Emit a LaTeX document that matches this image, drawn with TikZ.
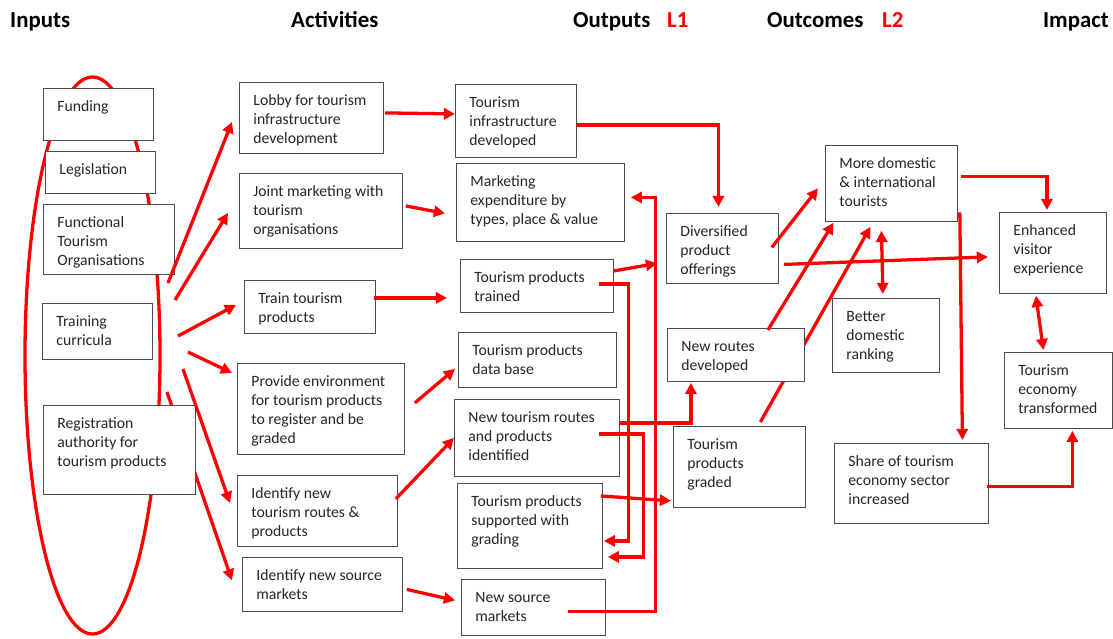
\documentclass[tikz,border=0pt]{standalone}
\usepackage{fontspec}
\setmainfont{Carlito}
\usetikzlibrary{arrows.meta,backgrounds}

\newlength\px
\setlength\px{0.3mm}
% box text: width, height (in px), lines
\newcommand\boxtxt[3]{\parbox[t][#2\px][t]{#1\px}{\vspace*{8.5pt}\raggedright\leftskip=14\px\strut#3}}

\tikzset{
  box/.style={draw=black!70, line width=0.7pt, fill=white, inner sep=0pt, anchor=north west, text=black!85},
  head/.style={font=\fontsize{19.5}{22}\selectfont\bfseries, inner sep=0pt, anchor=base west},
  link/.style={draw=red, line width=2.8pt, -{Triangle[length=9.5pt,width=9.5pt]}},
  both/.style={link, {Triangle[length=9.5pt,width=9.5pt]}-{Triangle[length=9.5pt,width=9.5pt]}},
}

\begin{document}
\begin{tikzpicture}[x=0.3mm, y=-0.3mm, font=\fontsize{13.4}{16.2}\selectfont]
\useasboundingbox (0,0) rectangle (1113,638);

% column heads
\node[head] (hin) at (10,27) {Inputs};
\node[head] (hact) at (291,27) {Activities};
\node[head] (hout) at (573,27) {Outputs};
\node[head, text=red] (hl1) at (667,27) {L1};
\node[head] (hoc) at (767,27) {Outcomes};
\node[head, text=red] (hl2) at (882,27) {L2};
\node[head, anchor=base east] (himp) at (1109,27) {Impact};

% inputs
\node[box] (fund) at (43,88) {\boxtxt{110}{52}{Funding}};
\node[box] (legis) at (45,151) {\boxtxt{110}{42}{Legislation}};
\node[box] (fto) at (43,204) {\boxtxt{131}{70}{Functional\\Tourism\\Organisations}};
\node[box] (curr) at (42,303) {\boxtxt{110}{56}{Training\\curricula}};
\node[box] (reg) at (43,405) {\boxtxt{152}{89}{Registration\\authority for\\tourism products}};

% activities
\node[box] (lobby) at (239,82) {\boxtxt{144}{71}{Lobby for tourism\\infrastructure\\development}};
\node[box] (joint) at (239,173) {\boxtxt{163}{75}{Joint marketing with\\tourism\\organisations}};
\node[box] (traintp) at (244,280) {\boxtxt{131}{53}{Train tourism\\products}};
\node[box] (provide) at (237,363) {\boxtxt{167}{91}{Provide environment\\for tourism products\\to register and be\\graded}};
\node[box] (identr) at (237,475) {\boxtxt{160}{71}{Identify new\\tourism routes \&\\products}};
\node[box] (idents) at (242,557) {\boxtxt{160}{54}{Identify new source\\markets}};

% outputs
\node[box] (infra) at (455,84) {\boxtxt{121}{73}{Tourism\\infrastructure\\developed}};
\node[box] (mkt) at (456,163) {\boxtxt{168}{78}{Marketing\\expenditure by\\types, place \& value}};
\node[box] (tptr) at (460,259) {\boxtxt{153}{53}{Tourism products\\trained}};
\node[box] (tpdb) at (458,332) {\boxtxt{158}{55}{Tourism products\\data base}};
\node[box] (newrt) at (454,399) {\boxtxt{165}{77}{New tourism routes\\and products\\identified}};
\node[box] (tpsg) at (457,483) {\boxtxt{145}{85}{Tourism products\\supported with\\grading}};
\node[box] (newsm) at (461,579) {\boxtxt{144}{56}{New source\\markets}};

% outcomes
\node[box] (divers) at (666,213) {\boxtxt{112}{70}{Diversified\\product\\offerings}};
\node[box] (newrd) at (667,328) {\boxtxt{137}{53}{New routes\\developed}};
\node[box] (graded) at (673,426) {\boxtxt{132}{81}{Tourism\\products\\graded}};
\node[box] (more) at (825,145) {\boxtxt{132}{76}{More domestic\\\& international\\tourists}};
\node[box] (better) at (832,298) {\boxtxt{107}{74}{Better\\domestic\\ranking}};
\node[box] (share) at (834,443) {\boxtxt{154}{80}{Share of tourism\\economy sector\\increased}};

% impact
\node[box] (enh) at (999,212) {\boxtxt{107}{81}{Enhanced\\visitor\\experience}};
\node[box] (econ) at (1004,352) {\boxtxt{108}{76}{Tourism\\economy\\transformed}};

% starts of the input arrows
\coordinate (i1) at (168,283);
\coordinate (i2) at (175,300);
\coordinate (i3) at (178,336);
\coordinate (i4) at (188,352);
\coordinate (i5) at (183,369);
\coordinate (i6) at (167,392);

\begin{pgfonlayer}{background}
  \draw[red, line width=2.8pt] (92.5,355.5) ellipse [x radius=67.5, y radius=278.5];
  \draw[link] (i6) -- ([shift={(-10,-4)}]idents.west);
  \draw[link] ([shift={(21,-4)}]graded.north) -- ([shift={(-21,5)}]more.south);
\end{pgfonlayer}

% inputs -> activities
\draw[link] (i1) -- ([shift={(-7,4)}]lobby.west);
\draw[link] (i2) -- ([shift={(-11,2)}]joint.west);
\draw[link] (i3) -- ([shift={(-8,-2)}]traintp.west);
\draw[link] (i4) -- ([shift={(-5,10)}]provide.north west);
\draw[link] (i5) -- ([shift={(-7,28)}]identr.north west);

% activities -> outputs
\draw[link] ([shift={(1,-5)}]lobby.east) -- ([shift={(0,-7)}]infra.west);
\draw[link] ([shift={(3,-5)}]joint.east) -- ([shift={(-11,11)}]mkt.west);
\draw[link] ([shift={(-2,-9)}]traintp.east) -- ([shift={(-13,12)}]tptr.west);
\draw[link] ([shift={(10,-6)}]provide.east) -- ([shift={(-3,9)}]tpdb.west);
\draw[link] ([shift={(-2,-12)}]identr.east) -- (newrt.west);
\draw[link] ([shift={(4,5)}]idents.east) -- ([shift={(-6,-7)}]newsm.west);

% outputs -> outcomes
\draw[link] ([shift={(0,4)}]infra.east) -| ([shift={(-4,-6)}]divers.north);
\draw[link] ([shift={(-38,4)}]newsm.east) -- ++(88,0) |- ([shift={(6,-5)}]mkt.east);
\draw[link] ([shift={(0,-15)}]tptr.east) -- ([shift={(-9,15)}]divers.west);
\draw[link] ([shift={(-15,-2)}]tptr.east) -- ++(30,0) |- ([shift={(1,15)}]tpsg.east);
\draw[link] ([shift={(-21,-4)}]newrt.east) -- ++(45,0) |- ([shift={(5,31)}]tpsg.east);
\draw[link] ([shift={(0,-15)}]newrt.east) -| ([shift={(-45,1)}]newrd.south);
\draw[link] ([shift={(-2,-30)}]tpsg.east) -- ([shift={(-2,34)}]graded.west);

% outcomes -> impact
\draw[link] ([shift={(-7,-1)}]divers.east) -- ([shift={(-7,5)}]more.west);
\draw[link] ([shift={(5,16)}]divers.east) -- ([shift={(-11,4)}]enh.west);
\draw[link] ([shift={(32,2)}]newrd.north) -- ([shift={(-58,1)}]more.south);
\draw[both] ([shift={(-10,9)}]more.south) -- ([shift={(-3,-4)}]better.north);
\draw[link] ([shift={(3,-7)}]more.east) -| ([shift={(-6,-2)}]enh.north);
\draw[link] ([shift={(2,29)}]more.east) -- ([shift={(51,-3)}]share.north);
\draw[both] ([shift={(-17,2)}]enh.south) -- ([shift={(-15,-2)}]econ.north);
\draw[link] ([shift={(-2,3)}]share.east) -| ([shift={(14,2)}]econ.south);
\end{tikzpicture}
\end{document}
